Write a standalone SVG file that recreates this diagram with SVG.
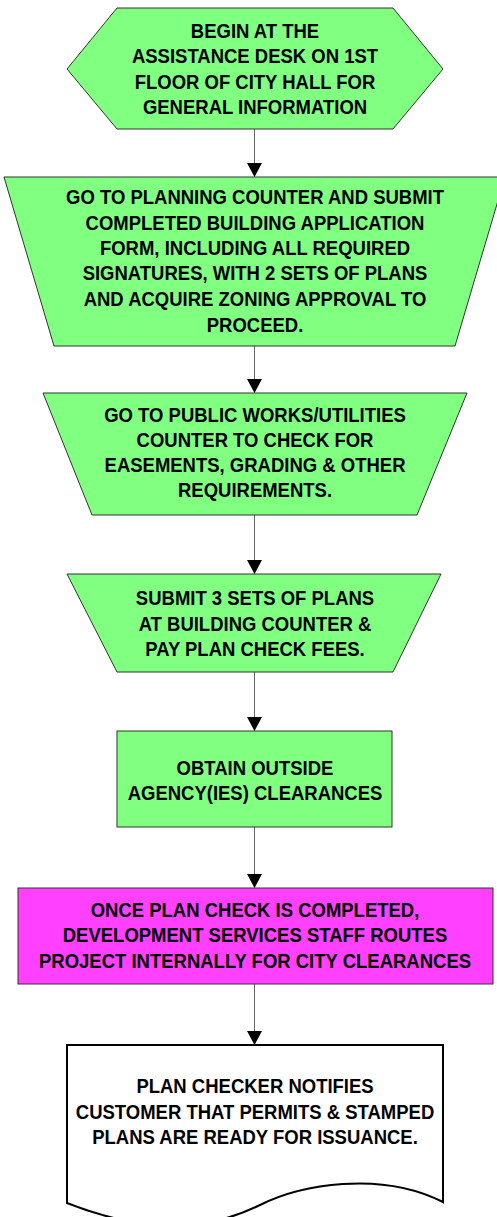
<svg xmlns="http://www.w3.org/2000/svg" width="497" height="1217" viewBox="0 0 497 1217">
<defs>
<style>
.g{fill:#80FF80;stroke:#333;stroke-width:1}
.m{fill:#FF40FF;stroke:#333;stroke-width:1}
.d{fill:#FFFFFF;stroke:#000;stroke-width:2;stroke-linejoin:miter}
.c{stroke:#666;stroke-width:1;fill:none}
text{font-family:"Liberation Sans",Arial,sans-serif;font-weight:bold;font-size:20px;fill:#000;text-anchor:middle}
</style>
<marker id="ah" markerUnits="userSpaceOnUse" markerWidth="15" markerHeight="15" refX="14" refY="7.5" orient="auto">
<path d="M0,0 L14,7.5 L0,15 Z" fill="#000"/>
</marker>
</defs>
<rect width="497" height="1217" fill="#FFFFFF"/>
<g id="connectors">
<line class="c" x1="254.5" y1="129" x2="254.5" y2="177" marker-end="url(#ah)"/>
<line class="c" x1="254.5" y1="346" x2="254.5" y2="393" marker-end="url(#ah)"/>
<line class="c" x1="254.5" y1="515" x2="254.5" y2="574" marker-end="url(#ah)"/>
<line class="c" x1="254.5" y1="672" x2="254.5" y2="731" marker-end="url(#ah)"/>
<line class="c" x1="254.5" y1="827" x2="254.5" y2="888" marker-end="url(#ah)"/>
<line class="c" x1="254.5" y1="984" x2="254.5" y2="1045" marker-end="url(#ah)"/>
</g>
<g id="n1">
<polygon class="g" points="117,8 393,8 443,69 393,129 117,129 67,69"/>
<text transform="scale(0.925,1)"><tspan x="275.7" y="37.8">BEGIN AT THE</tspan><tspan x="275.7" y="63.5">ASSISTANCE DESK ON 1ST</tspan><tspan x="275.7" y="89">FLOOR OF CITY HALL FOR</tspan><tspan x="275.7" y="114.5">GENERAL INFORMATION</tspan></text>
</g>
<g id="n2">
<polygon class="g" points="4,177 505,177 455,346 54,346"/>
<text transform="scale(0.925,1)"><tspan x="275.7" y="204">GO TO PLANNING COUNTER AND SUBMIT</tspan><tspan x="275.7" y="230">COMPLETED BUILDING APPLICATION</tspan><tspan x="275.7" y="255">FORM, INCLUDING ALL REQUIRED</tspan><tspan x="275.7" y="280.5">SIGNATURES, WITH 2 SETS OF PLANS</tspan><tspan x="275.7" y="306.5">AND ACQUIRE ZONING APPROVAL TO</tspan><tspan x="275.7" y="332">PROCEED.</tspan></text>
</g>
<g id="n3">
<polygon class="g" points="43,393 467,393 417,515 92,515"/>
<text transform="scale(0.925,1)"><tspan x="275.7" y="421.7">GO TO PUBLIC WORKS/UTILITIES</tspan><tspan x="275.7" y="446.7">COUNTER TO CHECK FOR</tspan><tspan x="275.7" y="471.7">EASEMENTS, GRADING &amp; OTHER</tspan><tspan x="275.7" y="496.7">REQUIREMENTS.</tspan></text>
</g>
<g id="n4">
<polygon class="g" points="67,574 441,574 393,672 117,672"/>
<text transform="scale(0.925,1)"><tspan x="275.7" y="605">SUBMIT 3 SETS OF PLANS</tspan><tspan x="275.7" y="631">AT BUILDING COUNTER &amp;</tspan><tspan x="275.7" y="656">PAY PLAN CHECK FEES.</tspan></text>
</g>
<g id="n5">
<rect class="g" x="117" y="731" width="275" height="96"/>
<text transform="scale(0.925,1)"><tspan x="275.7" y="775">OBTAIN OUTSIDE</tspan><tspan x="275.7" y="800">AGENCY(IES) CLEARANCES</tspan></text>
</g>
<g id="n6">
<rect class="m" x="18" y="888" width="475" height="96"/>
<text transform="scale(0.925,1)"><tspan x="275.7" y="917.5">ONCE PLAN CHECK IS COMPLETED,</tspan><tspan x="275.7" y="942.5">DEVELOPMENT SERVICES STAFF ROUTES</tspan><tspan x="275.7" y="968">PROJECT INTERNALLY FOR CITY CLEARANCES</tspan></text>
</g>
<g id="n7">
<path class="d" d="M67,1045 H443 V1202 C380,1170 300,1185 260,1205 C200,1235 135,1230 67,1203 Z"/>
<text transform="scale(0.925,1)"><tspan x="275.7" y="1093">PLAN CHECKER NOTIFIES</tspan><tspan x="275.7" y="1119.5">CUSTOMER THAT PERMITS &amp; STAMPED</tspan><tspan x="275.7" y="1144">PLANS ARE READY FOR ISSUANCE.</tspan></text>
</g>
</svg>
